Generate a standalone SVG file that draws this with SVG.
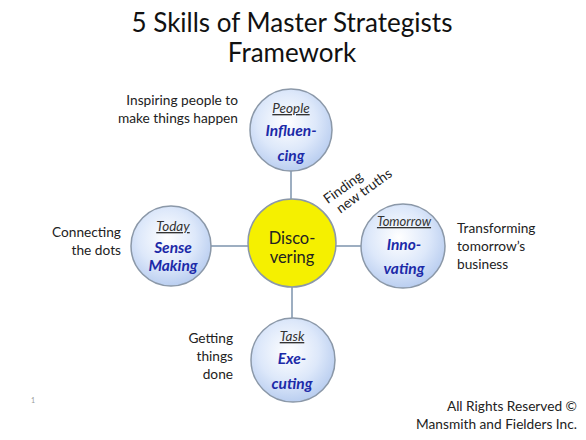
<svg xmlns="http://www.w3.org/2000/svg" width="586" height="440" viewBox="0 0 586 440">
<defs>
<radialGradient id="blueFill" cx="0.45" cy="0.4" r="0.65">
<stop offset="0" stop-color="#ffffff"/>
<stop offset="0.55" stop-color="#dde8fa"/>
<stop offset="1" stop-color="#b3c9ee"/>
</radialGradient>
<style>
.t{font-family:Lato,"Open Sans","Liberation Sans",sans-serif;fill:#222}
.title{font-size:26px;text-anchor:middle;fill:#111}
.lbl{font-size:13.7px}
.hd{font-size:13.5px;font-style:italic;text-decoration:underline;text-anchor:middle;fill:#333}
.nm{font-size:15.5px;font-style:italic;font-weight:bold;text-anchor:middle;fill:#1c2aa8}
.ctr{font-size:16.5px;text-anchor:middle;fill:#222}
.node{fill:url(#blueFill);stroke:#8b98a8;stroke-width:1.5}
.conn{stroke:#7c93ad;stroke-width:1.5;fill:none}
</style>
</defs>
<rect width="586" height="440" fill="#ffffff"/>
<text class="t title" x="292" y="32">5 Skills of Master Strategists</text>
<text class="t title" x="292" y="62">Framework</text>

<g id="connectors">
<line class="conn" x1="291" y1="171" x2="291" y2="199"/>
<line class="conn" x1="292" y1="287" x2="292" y2="318"/>
<line class="conn" x1="211" y1="246" x2="248" y2="246"/>
<line class="conn" x1="336" y1="246" x2="361" y2="246"/>
</g>

<g id="people">
<circle class="node" cx="291" cy="130" r="41"/>
<text class="t hd" x="291" y="113">People</text>
<text class="t nm" x="291" y="136">Influen-</text>
<text class="t nm" x="291" y="161">cing</text>
</g>
<g id="today">
<circle class="node" cx="171" cy="246" r="40"/>
<text class="t hd" x="173" y="231">Today</text>
<text class="t nm" x="173" y="253">Sense</text>
<text class="t nm" x="173" y="271">Making</text>
</g>
<g id="discovering">
<circle cx="292" cy="243" r="44" fill="#f5f000" stroke="#8b98a8" stroke-width="1.5"/>
<text class="t ctr" x="292" y="244">Disco-</text>
<text class="t ctr" x="292" y="263">vering</text>
</g>
<g id="tomorrow">
<circle class="node" cx="403" cy="246" r="42"/>
<text class="t hd" x="404" y="226" style="font-size:13px">Tomorrow</text>
<text class="t nm" x="404" y="250">Inno-</text>
<text class="t nm" x="404" y="274">vating</text>
</g>
<g id="task">
<circle class="node" cx="293" cy="360" r="42"/>
<text class="t hd" x="292" y="341">Task</text>
<text class="t nm" x="292" y="364">Exe-</text>
<text class="t nm" x="292" y="389">cuting</text>
</g>

<g id="labels">
<text class="t lbl" x="238" y="105" text-anchor="end">Inspiring people to</text>
<text class="t lbl" x="238" y="123" text-anchor="end">make things happen</text>
<text class="t lbl" x="121" y="237" text-anchor="end">Connecting</text>
<text class="t lbl" x="121" y="255" text-anchor="end">the dots</text>
<text class="t lbl" x="457" y="233">Transforming</text>
<text class="t lbl" x="457" y="251">tomorrow’s</text>
<text class="t lbl" x="457" y="269">business</text>
<text class="t lbl" x="233" y="343" text-anchor="end">Getting</text>
<text class="t lbl" x="233" y="361" text-anchor="end">things</text>
<text class="t lbl" x="233" y="379" text-anchor="end">done</text>
<g transform="translate(350,192) rotate(-36)">
<text class="t lbl" x="-3" y="-3" text-anchor="middle">Finding</text>
<text class="t lbl" x="12" y="12" text-anchor="middle">new truths</text>
</g>
<text class="t lbl" x="577" y="411" text-anchor="end">All Rights Reserved ©</text>
<text class="t lbl" x="577" y="429" text-anchor="end">Mansmith and Fielders Inc.</text>
<text class="t" x="33" y="403" style="font-size:7px;fill:#999" text-anchor="middle">1</text>
</g>
</svg>
